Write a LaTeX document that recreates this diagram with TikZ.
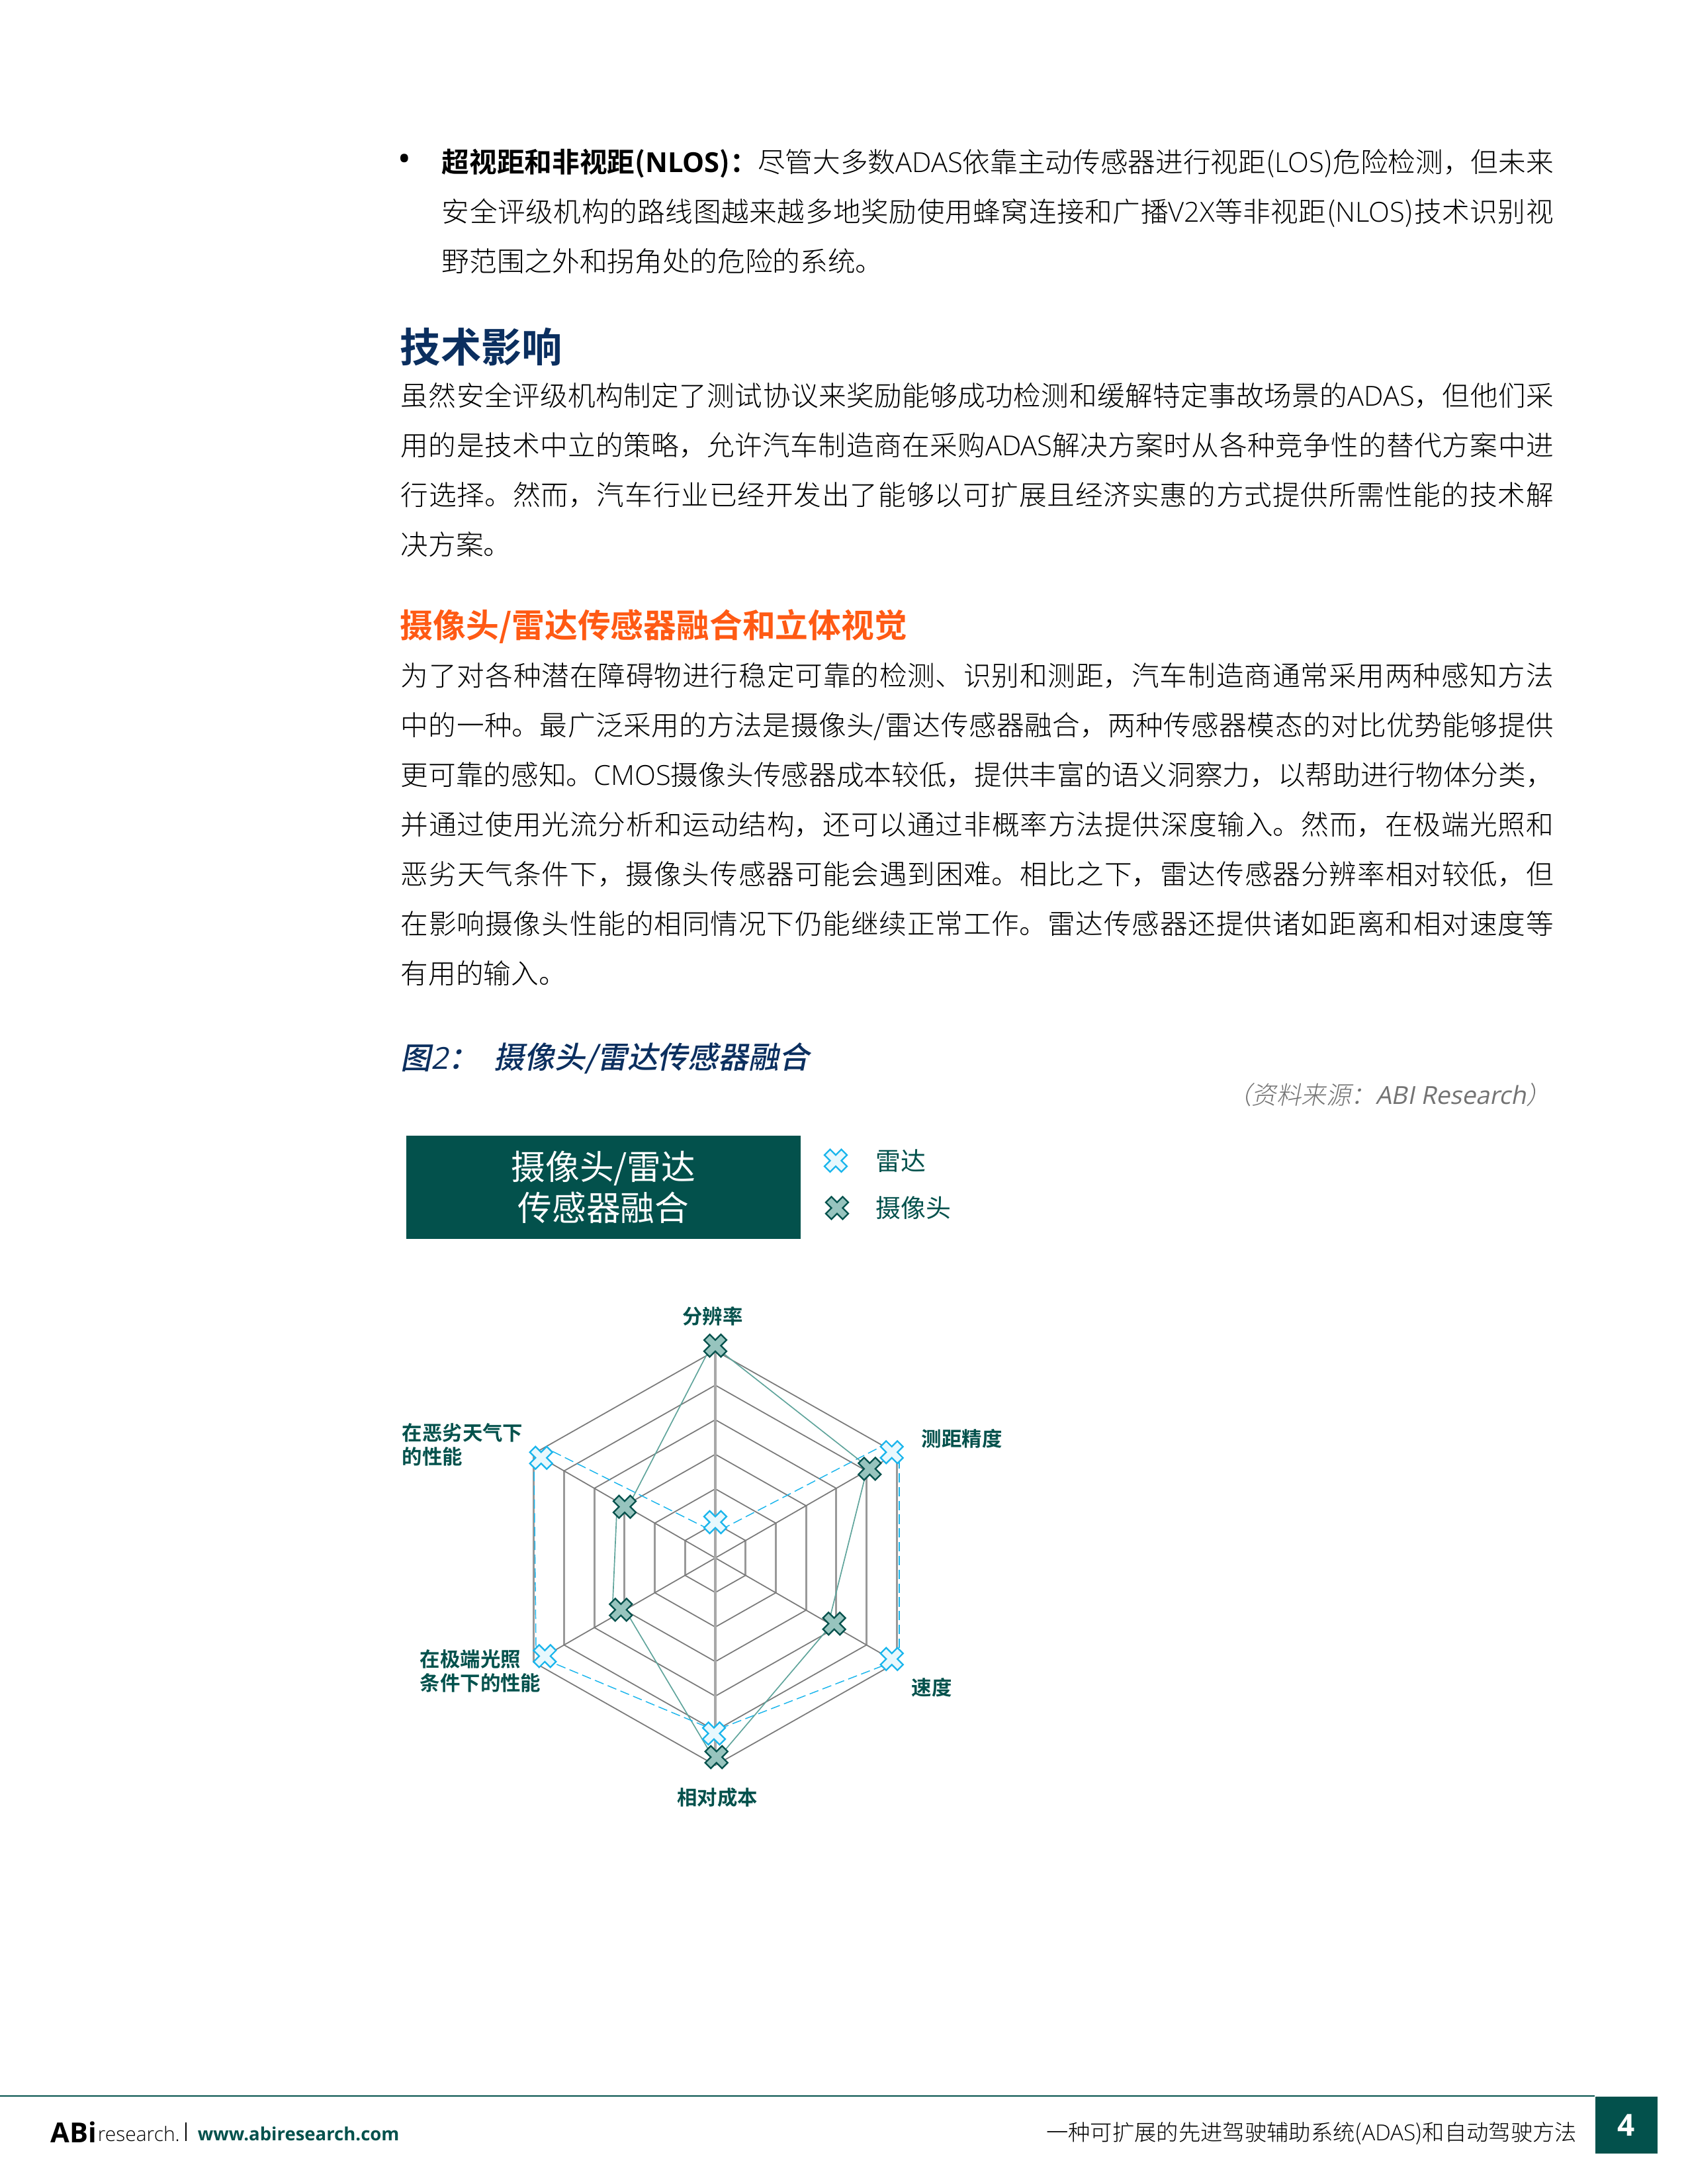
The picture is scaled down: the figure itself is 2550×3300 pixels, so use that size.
\documentclass[tikz,border=0pt]{standalone}
\usepackage{fontspec}
\setmainfont{Noto Sans CJK SC Light}[BoldFont=Noto Sans CJK SC Bold]
\newfontfamily\cjkreg{Noto Sans CJK SC}
\newfontfamily\lat{Open Sans Light}[BoldFont=Open Sans Bold]
\newfontfamily\cjkslant{Noto Sans CJK SC Medium}[FakeSlant=0.2]
\newfontfamily\cjkslantlight{Noto Sans CJK SC Light}[FakeSlant=0.2]
\newfontfamily\latslant{Open Sans}[FakeSlant=0.2]
\XeTeXlinebreaklocale "zh"
\XeTeXlinebreakskip=0pt plus 1.5pt minus .2pt
\definecolor{abigreen}{HTML}{03514C}
\definecolor{abinavy}{HTML}{0B2F5F}
\definecolor{abiorange}{HTML}{FF5A14}
\definecolor{abiblue}{HTML}{19B5EC}
\definecolor{abiteal}{HTML}{5FA49B}
\tikzset{
  bodytext/.style={anchor=north west,inner sep=0pt,align=justify,font=\fontsize{10pt}{18pt}\selectfont,
    execute at begin node={\tolerance=9999\vrule height 9pt width 0pt depth 0pt\relax}},
  plainline/.style={anchor=west,inner sep=0pt},
  axislabel/.style={plainline,align=left,text=abigreen,font=\fontsize{7.3pt}{8.6pt}\selectfont\bfseries},
  ringline/.style={draw=black!52,line width=.42pt},
  ringwall/.style={draw=black!40,line width=.7pt},
  mainspoke/.style={draw=black!34,line width=1pt},
  radarlink/.style={draw=abiblue,line width=.35pt,dash pattern=on 3.4pt off 1.6pt},
  cameralink/.style={draw=abiteal,line width=.4pt},
  radarmark/.style={draw=abiblue,fill=abiblue!10,line width=.55pt},
  cameramark/.style={draw=abigreen,fill=abiteal!65,line width=.55pt},
  fatx/.pic={\draw[pic actions,rotate=45] (-6,-18)--(6,-18)--(6,-6)--(18,-6)--(18,6)--(6,6)--(6,18)--(-6,18)--(-6,6)--(-18,6)--(-18,-6)--(-6,-6)--cycle;}
}
\begin{document}
\begin{tikzpicture}[x=0.24pt,y=-0.24pt]
\useasboundingbox (0,0) rectangle (2550,3300);
% page text
\node[plainline,font=\lat\fontsize{10pt}{12pt}\selectfont\bfseries] (bullet) at (603,244) {•};
\node[bodytext,text width=403.2pt] (para1) at (667,222.5) {\textbf{超视距和非视距({\lat NLOS})：}尽管大多数{\lat ADAS}依靠主动传感器进行视距({\lat LOS})危险检测，但未来\linebreak
安全评级机构的路线图越来越多地奖励使用蜂窝连接和广播{\lat V2X}等非视距({\lat NLOS})技术识别视\linebreak
野范围之外和拐角处的危险的系统。};
\node[plainline,text=abinavy,font=\fontsize{14.7pt}{16pt}\selectfont\bfseries] (head1) at (604,524) {技术影响};
\node[bodytext,text width=418.1pt] (para2) at (605,575.5) {虽然安全评级机构制定了测试协议来奖励能够成功检测和缓解特定事故场景的{\lat ADAS}，但他们采\linebreak
用的是技术中立的策略，允许汽车制造商在采购{\lat ADAS}解决方案时从各种竞争性的替代方案中进\linebreak
行选择。然而，汽车行业已经开发出了能够以可扩展且经济实惠的方式提供所需性能的技术解\linebreak
决方案。};
\node[plainline,text=abiorange,font=\fontsize{11.95pt}{14pt}\selectfont\bfseries] (head2) at (604,947) {摄像头/雷达传感器融合和立体视觉};
\node[bodytext,text width=418.1pt] (para3) at (605,998.5) {为了对各种潜在障碍物进行稳定可靠的检测、识别和测距，汽车制造商通常采用两种感知方法\linebreak
中的一种。最广泛采用的方法是摄像头/雷达传感器融合，两种传感器模态的对比优势能够提供\linebreak
更可靠的感知。{\lat CMOS}摄像头传感器成本较低，提供丰富的语义洞察力，以帮助进行物体分类，\linebreak
并通过使用光流分析和运动结构，还可以通过非概率方法提供深度输入。然而，在极端光照和\linebreak
恶劣天气条件下，摄像头传感器可能会遇到困难。相比之下，雷达传感器分辨率相对较低，但\linebreak
在影响摄像头性能的相同情况下仍能继续正常工作。雷达传感器还提供诸如距离和相对速度等\linebreak
有用的输入。};
\node[plainline,text=abinavy,font=\cjkslant\fontsize{11pt}{13pt}\selectfont] (figno) at (605,1599) {图{\latslant 2}：};
\node[plainline,text=abinavy,font=\cjkslant\fontsize{11pt}{13pt}\selectfont] (figtitle) at (746,1599) {摄像头/雷达传感器融合};
\node[anchor=east,inner sep=0pt,text=black!55,font=\cjkslantlight\fontsize{9pt}{11pt}\selectfont] (figsource) at (2345,1654) {（资料来源：{\latslant ABI Research}）};
% title box and legend
\node[fill=abigreen,text=white,inner sep=0pt,minimum width=143.2pt,minimum height=37.6pt,align=center,font=\cjkreg\fontsize{12.4pt}{15pt}\selectfont] (titlebox) at (912,1794) {摄像头/雷达\\传感器融合};
\coordinate (keyradar) at (1263,1753.7);
\coordinate (keycamera) at (1265,1825.2);
\pic[radarmark] at (keyradar) {fatx};
\pic[cameramark] at (keycamera) {fatx};
\node[plainline,text=abigreen,font=\cjkreg\fontsize{9.1pt}{11pt}\selectfont] (keyradartext) at (1323,1753.7) {雷达};
\node[plainline,text=abigreen,font=\cjkreg\fontsize{9.1pt}{11pt}\selectfont] (keycameratext) at (1323,1825.2) {摄像头};
% web
\coordinate (hub) at (1081,2354);
\begin{scope}[shift={(hub)}]
\foreach \ring in {1,...,6} {
  \draw[ringline] (-45.7*\ring,-26.3*\ring) -- (0,-52.2*\ring) -- (45.7*\ring,-26.3*\ring);
  \draw[ringline] (-45.7*\ring,26.3*\ring) -- (0,52.2*\ring) -- (45.7*\ring,26.3*\ring);
  \draw[ringwall] (45.7*\ring,-26.3*\ring) -- (45.7*\ring,26.3*\ring);
  \draw[ringwall] (-45.7*\ring,-26.3*\ring) -- (-45.7*\ring,26.3*\ring);
}
\foreach \sx/\sy in {1/1,1/-1,-1/1,-1/-1}
  \draw[ringline] (0,0) -- (\sx*45.7*6,\sy*26.3*6);
\draw[mainspoke] (0,-313.2) -- (0,313.2);
\end{scope}
% marks
\coordinate (camtop) at (1081,2033.3);
\coordinate (camright) at (1314.3,2219.3);
\coordinate (camlowright) at (1260.7,2453.3);
\coordinate (cambottom) at (1082.7,2655);
\coordinate (camlowleft) at (938.3,2432.3);
\coordinate (camleft) at (944,2276.7);
\coordinate (radtop) at (1081,2300);
\coordinate (radright) at (1347.7,2194.3);
\coordinate (radlowright) at (1347.7,2506.7);
\coordinate (radbottom) at (1079,2619.3);
\coordinate (radlowleft) at (823.3,2502.3);
\coordinate (radleft) at (817.7,2202.7);
% link ends, hidden under the marks
\coordinate (ca1) at (1071,2041);
\coordinate (ca2) at (950,2275);
\coordinate (cb1) at (932,2285);
\coordinate (cb2) at (926,2421);
\coordinate (cc1) at (948,2438);
\coordinate (cc2) at (1072,2646);
\coordinate (cd1) at (1090,2651);
\coordinate (cd2) at (1254,2458);
\coordinate (ce1) at (1254,2445);
\coordinate (ce2) at (1309,2225);
\coordinate (cf1) at (1306,2212);
\coordinate (cf2) at (1092,2044);
\coordinate (ra1) at (1090,2311);
\coordinate (ra2) at (1333,2185);
\coordinate (rb1) at (1359,2205);
\coordinate (rb2) at (1359,2495);
\coordinate (rc1) at (1334,2517);
\coordinate (rc2) at (1090,2611);
\coordinate (rd1) at (1066,2608.5);
\coordinate (rd2) at (837,2513);
\coordinate (re1) at (810,2488);
\coordinate (re2) at (807,2216);
\coordinate (rf1) at (835,2193);
\coordinate (rf2) at (1072,2311);
\foreach \p in {a,b,c,d,e,f} {
  \draw[cameralink] (c\p1) -- (c\p2);
  \draw[radarlink] (r\p1) -- (r\p2);
}
\foreach \p in {radtop,radright,radlowright,radbottom,radlowleft,radleft}
  \pic[radarmark] at (\p) {fatx};
\foreach \p in {camtop,camright,camlowright,cambottom,camlowleft,camleft}
  \pic[cameramark] at (\p) {fatx};
\node[axislabel,anchor=center] (axtop) at (1077,1988.7) {分辨率};
\node[axislabel] (axright) at (1392,2173.9) {测距精度};
\node[axislabel] (axlowright) at (1377,2549.9) {速度};
\node[axislabel,anchor=center] (axbottom) at (1084,2716) {相对成本};
\node[axislabel] (axlowleft) at (634,2524.6) {在极端光照\\条件下的性能};
\node[axislabel] (axleft) at (607,2182.6) {在恶劣天气下\\的性能};
% footer
\coordinate (ruleleft) at (0,3167);
\coordinate (ruleright) at (2410,3167);
\draw[abigreen,line width=.7pt] (ruleleft) -- (ruleright);
\node[fill=abigreen,text=white,anchor=north west,inner sep=0pt,minimum width=22.6pt,minimum height=20.6pt,font=\lat\fontsize{11pt}{13pt}\selectfont\bfseries] (pageno) at (2410,3167) {4};
\node[plainline,font=\lat\fontsize{10pt}{12pt}\selectfont\bfseries] (logoabi) at (76,3222) {ABi};
\node[plainline,font=\lat\fontsize{7.2pt}{9pt}\selectfont] (logoword) at (147,3224) {research.};
\coordinate (bartop) at (281,3207);
\coordinate (barbottom) at (281,3235);
\draw[black,line width=.4pt] (bartop) -- (barbottom);
\node[plainline,text=abigreen,font=\lat\fontsize{6.6pt}{8pt}\selectfont\bfseries] (weburl) at (298,3224) {www.abiresearch.com};
\node[anchor=east,inner sep=0pt,font=\fontsize{8pt}{10pt}\selectfont] (footline) at (2384,3224) {一种可扩展的先进驾驶辅助系统({\lat ADAS})和自动驾驶方法};
\end{tikzpicture}
\end{document}
